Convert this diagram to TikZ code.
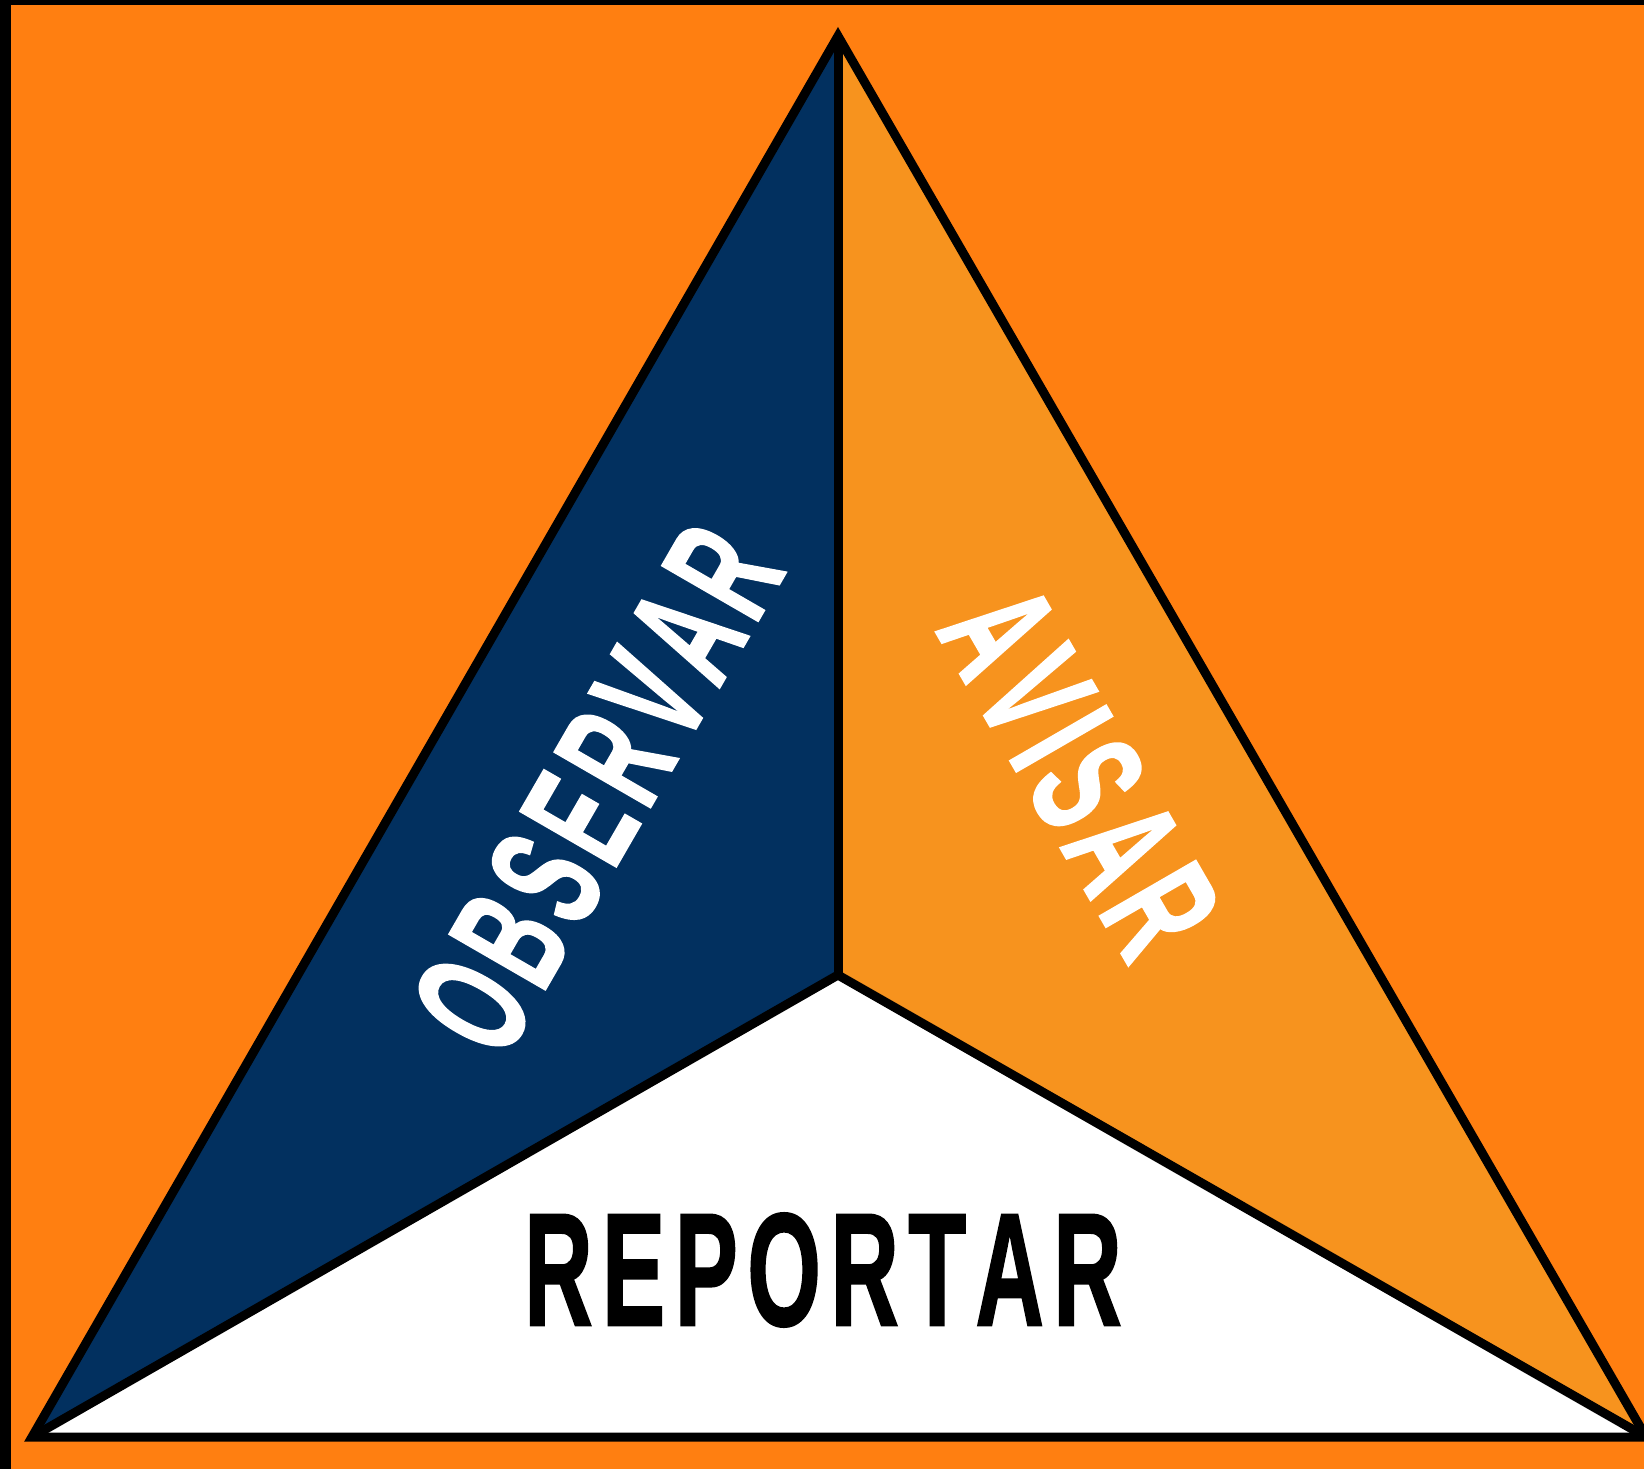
\documentclass[tikz,border=0pt]{standalone}
\usepackage{fontspec}
\usepackage{graphicx}
\setmainfont{Liberation Sans}
\newfontfamily\labelfont[LetterSpace=10,Kerning=Off,FakeBold=1.5]{Liberation Sans Bold}
\definecolor{bgorange}{HTML}{FF7F11}
\definecolor{navy}{HTML}{02305F}
\definecolor{lightorange}{HTML}{F7931E}
\tikzset{
  edge/.style={draw=black,line width=9pt,line join=miter,miter limit=10},
  word/.style={inner sep=0pt,outer sep=0pt,anchor=center},
}
\newcommand{\wordbox}[3]{\resizebox{#1pt}{#2pt}{\labelfont #3}}
\begin{document}
\begin{tikzpicture}[x=1pt,y=-1pt]
\useasboundingbox (0,0) rectangle (1644,1469);
\fill[black] (0,0) rectangle (1644,1469);
\fill[bgorange] (11,5) rectangle (1644,1469);
\coordinate (apex) at (838,36);
\coordinate (left) at (32,1437);
\coordinate (right) at (1646,1437);
\coordinate (mid) at (838,975);
\fill[navy] (apex) -- (mid) -- (left) -- cycle;
\fill[lightorange] (apex) -- (mid) -- (right) -- cycle;
\fill[white] (left) -- (mid) -- (right) -- cycle;
\draw[edge] (apex) -- (left) -- (right) -- cycle;
\draw[edge] (apex) -- (mid);
\draw[edge] (mid) -- (left);
\draw[edge] (mid) -- (right);
\node[word,rotate=60,text=white] (obs) at (597,789) {\wordbox{568}{112}{OBSERVAR}};
\node[word,rotate=-60,text=white] (avi) at (1080,771) {\wordbox{390}{112}{AVISAR}};
\node[word,text=black] (rep) at (823,1270) {\wordbox{597}{112}{REPORTAR}};
\end{tikzpicture}
\end{document}
